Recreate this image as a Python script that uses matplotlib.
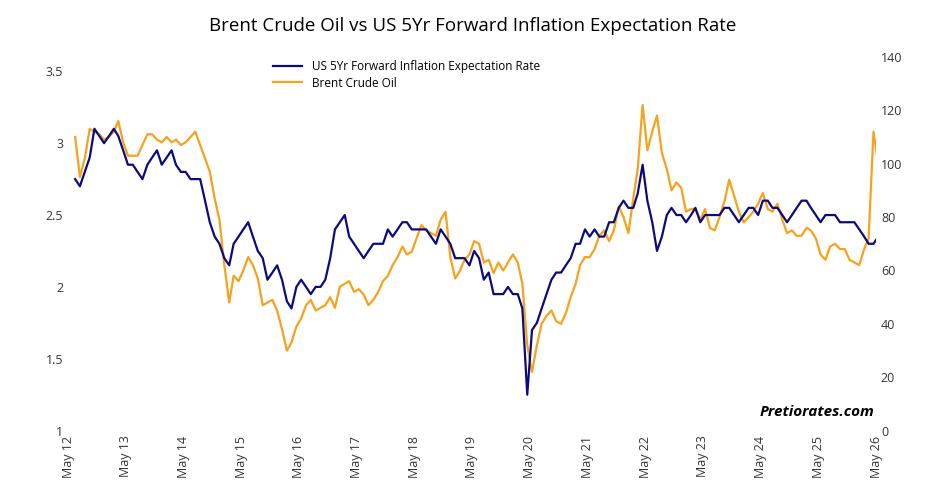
import numpy as np
import pandas as pd
import matplotlib.pyplot as plt
import matplotlib.dates as mdates

plt.rcParams['font.family'] = ['Open Sans', 'DejaVu Sans']

# monthly values, May 2012 .. Apr 2026
brent = [110, 95, 102, 113, 112, 111, 109, 110,
         112, 116, 108, 103, 103, 103, 107, 111, 111, 109, 108, 110,
         108, 109, 107, 108, 110, 112, 107, 102, 97, 87, 79, 62,
         48, 58, 56, 60, 65, 62, 57, 47, 48, 49, 45, 38,
         30, 33, 39, 42, 47, 49, 45, 46, 47, 50, 46, 54,
         55, 56, 52, 53, 51, 47, 49, 52, 56, 58, 62, 65,
         69, 66, 67, 72, 77, 75, 74, 73, 79, 82, 65, 57,
         60, 64, 66, 71, 70, 63, 64, 59, 63, 60, 63, 66,
         63, 55, 32, 22, 32, 40, 43, 45, 41, 40, 44, 50,
         55, 62, 65, 65, 68, 73, 75, 71, 75, 84, 80, 74,
         87, 98, 122, 105, 112, 118, 104, 98, 90, 93, 91, 82,
         83, 83, 79, 83, 76, 75, 80, 86, 94, 88, 82, 78,
         80, 82, 85, 89, 83, 82, 85, 79, 74, 75, 73, 73,
         76, 75, 72, 66, 64, 69, 70, 68, 68, 64, 63, 62,
         68, 72, 112, 100]

infl = [2.75, 2.7, 2.8, 2.9, 3.1, 3.05, 3.0, 3.05,
        3.1, 3.05, 2.95, 2.85, 2.85, 2.8, 2.75, 2.85, 2.9, 2.95, 2.85, 2.9,
        2.95, 2.85, 2.8, 2.8, 2.75, 2.75, 2.75, 2.6, 2.45, 2.35, 2.3, 2.2,
        2.15, 2.3, 2.35, 2.4, 2.45, 2.35, 2.25, 2.2, 2.05, 2.1, 2.15, 2.05,
        1.9, 1.85, 2.0, 2.05, 2.0, 1.95, 2.0, 2.0, 2.05, 2.2, 2.4, 2.45,
        2.5, 2.35, 2.3, 2.25, 2.2, 2.25, 2.3, 2.3, 2.3, 2.4, 2.35, 2.4,
        2.45, 2.45, 2.4, 2.4, 2.4, 2.4, 2.35, 2.3, 2.4, 2.35, 2.3, 2.2,
        2.2, 2.2, 2.15, 2.25, 2.2, 2.05, 2.1, 1.95, 1.95, 1.95, 2.0, 1.95,
        1.95, 1.85, 1.25, 1.7, 1.75, 1.85, 1.95, 2.05, 2.1, 2.1, 2.15, 2.2,
        2.3, 2.3, 2.4, 2.35, 2.4, 2.35, 2.35, 2.45, 2.45, 2.55, 2.6, 2.55,
        2.55, 2.65, 2.85, 2.6, 2.45, 2.25, 2.35, 2.5, 2.55, 2.5, 2.5, 2.45,
        2.5, 2.55, 2.45, 2.5, 2.5, 2.5, 2.5, 2.55, 2.55, 2.5, 2.45, 2.5,
        2.55, 2.55, 2.5, 2.6, 2.6, 2.55, 2.55, 2.5, 2.45, 2.5, 2.55, 2.6,
        2.6, 2.55, 2.5, 2.45, 2.5, 2.5, 2.5, 2.45, 2.45, 2.45, 2.45, 2.4,
        2.35, 2.3, 2.3, 2.35]

dates = pd.date_range("2012-05-15", periods=len(brent), freq="MS") + pd.Timedelta(days=14)

navy = "#0b0b7d"
orange = "#f8a11c"

fig = plt.figure(figsize=(9.45, 4.95), dpi=100)
ax = fig.add_axes([0.072, 0.13, 0.855, 0.755])
ax2 = ax.twinx()

l2, = ax2.plot(dates, brent, color=orange, lw=1.6, label="Brent Crude Oil")
l1, = ax.plot(dates, infl, color=navy, lw=1.6, label="US 5Yr Forward Inflation Expectation Rate")
ax.set_zorder(ax2.get_zorder() + 1)
ax.patch.set_visible(False)

ax.set_ylim(1, 3.6)
ax.set_yticks([1, 1.5, 2, 2.5, 3, 3.5])
ax.set_yticklabels(["1", "1.5", "2", "2.5", "3", "3.5"])
ax2.set_ylim(0, 140)
ax2.set_yticks(range(0, 141, 20))

ax.set_xlim(pd.Timestamp("2012-05-01"), pd.Timestamp("2026-05-01"))
ticks = [pd.Timestamp(f"{y}-05-01") for y in range(2012, 2027)]
ax.set_xticks(ticks)
ax.set_xticklabels([t.strftime("May %y") for t in ticks], rotation=90)

for a in (ax, ax2):
    for s in a.spines.values():
        s.set_visible(False)
    a.tick_params(length=0, labelsize=9, colors="#333333")

ax.legend(handles=[l1, l2], loc="upper left", bbox_to_anchor=(0.24, 1.02),
          frameon=False, fontsize=8.5, handlelength=2.5, labelspacing=0.3)

fig.suptitle("Brent Crude Oil vs US 5Yr Forward Inflation Expectation Rate",
             y=0.965, fontsize=13.5)
fig.text(0.925, 0.16, "Pretiorates.com", ha="right", fontsize=11,
         fontweight="bold", fontstyle="italic")

fig.savefig("out.png", dpi=100)
